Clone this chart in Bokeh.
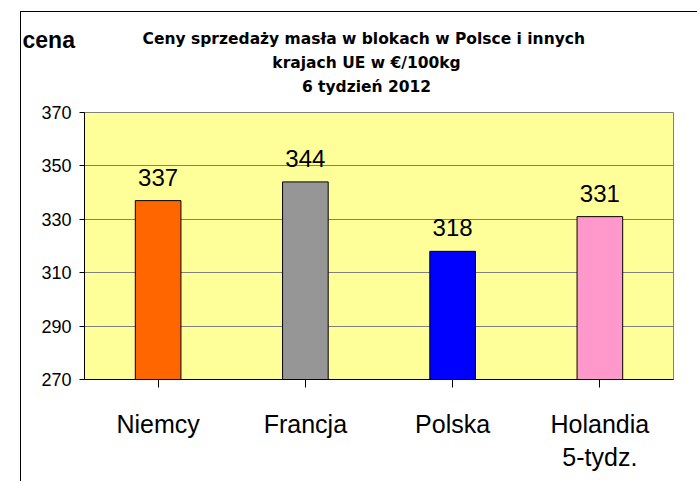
from bokeh.plotting import figure
from bokeh.layouts import column
from bokeh.models import ColumnDataSource, LabelSet, Label, FixedTicker, Range1d
from bokeh.core.properties import value
from bokeh.embed import file_html
from bokeh.resources import INLINE

categories = ["Niemcy", "Francja", "Polska", "Holandia\n5-tydz."]
prices = [337, 344, 318, 331]
colors = ["#FF6600", "#969696", "#0000FF", "#FF99CC"]
y_ticks = [270, 290, 310, 330, 350, 370]
title_lines = ["Ceny sprzedaży masła w blokach w Polsce i  innych", "krajach UE w €/100kg", "6 tydzień 2012"]
y_title = "cena"

FONT = "Liberation Sans"
W = 676

# ---- header figure (title + axis caption) ----
head = figure(width=W, height=90, x_range=(0, 1), y_range=(0, 1),
              output_backend="svg", toolbar_location=None,
              min_border_left=0, min_border_right=0, min_border_top=0, min_border_bottom=0)
head.frame_align = False
head.axis.visible = False
head.grid.visible = False
head.outline_line_color = None
head.background_fill_color = "white"
head.border_fill_color = "white"

for i, t in enumerate(title_lines):
    head.add_layout(Label(x=345, y=64 - 24 * i, x_units="screen", y_units="screen",
                          text=t, text_align="center", text_baseline="middle",
                          text_font="DejaVu Sans", text_font_style="bold", text_font_size="15.5px",
                          text_color="black"))
head.add_layout(Label(x=1, y=63, x_units="screen", y_units="screen", text=y_title,
                      text_align="left", text_baseline="middle",
                      text_font=FONT, text_font_style="bold", text_font_size="23px",
                      text_color="black"))

# ---- main chart ----
src = ColumnDataSource(dict(cat=categories, price=prices, color=colors,
                            bottom=[y_ticks[0]] * len(prices),
                            lbl=[str(v) for v in prices]))

p = figure(x_range=categories, y_range=Range1d(y_ticks[0], y_ticks[-1]),
           width=W, height=379, output_backend="svg", toolbar_location=None,
           min_border_left=63, min_border_right=24, min_border_top=10, min_border_bottom=102)
p.frame_align = False
p.background_fill_color = "#FFFF99"
p.border_fill_color = "white"
p.outline_line_color = "#808080"
p.outline_line_width = 1

p.vbar(x="cat", top="price", bottom="bottom", width=0.31, source=src,
       fill_color="color", line_color="black", line_width=1)

p.add_layout(LabelSet(x="cat", y="price", text="lbl", source=src,
                      text_align="center", text_baseline="alphabetic", y_offset=15,
                      text_font=value(FONT), text_font_size="24px", text_color="black"))

p.yaxis.ticker = FixedTicker(ticks=y_ticks)
p.yaxis.major_tick_out = 5
p.yaxis.major_tick_in = 0
p.yaxis.minor_tick_line_color = None
p.yaxis.axis_line_color = "black"
p.yaxis.major_tick_line_color = "black"
p.yaxis.major_label_text_font = FONT
p.yaxis.major_label_text_font_size = "18px"
p.yaxis.major_label_text_color = "black"
p.yaxis.major_label_standoff = 8

p.xaxis.major_tick_out = 8
p.xaxis.major_tick_in = 0
p.xaxis.axis_line_color = "black"
p.xaxis.major_tick_line_color = "black"
p.xaxis.major_label_text_font = FONT
p.xaxis.major_label_text_font_size = "25px"
p.xaxis.major_label_text_color = "black"
p.xaxis.major_label_standoff = 22
p.xaxis.major_label_text_line_height = 1.2

p.xgrid.grid_line_color = None
p.ygrid.grid_line_color = "#808080"
p.ygrid.grid_line_width = 1
p.ygrid.ticker = FixedTicker(ticks=y_ticks)

layout = column(head, p, spacing=0)
layout.styles = {"margin-left": "20px", "margin-top": "11px",
                 "border-left": "1px solid black", "border-top": "1px solid black"}

open("out.html", "w").write(file_html(layout, INLINE))
